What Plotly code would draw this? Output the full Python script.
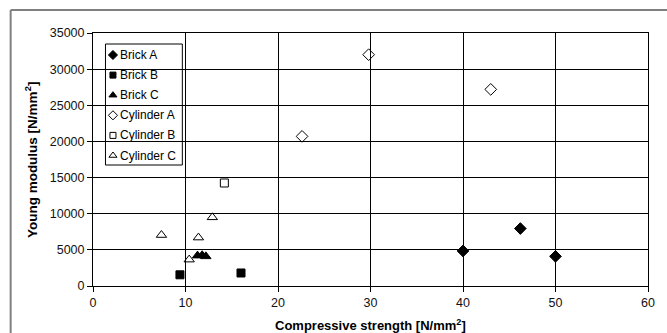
import plotly.graph_objects as go

brick_a_x = [40.0, 46.2, 50.0]
brick_a_y = [4850, 7950, 4100]
brick_b_x = [9.4, 16.0]
brick_b_y = [1550, 1800]
brick_c_x = [11.3, 11.8, 12.2]
brick_c_y = [4200, 4250, 4100]
cyl_a_x = [22.6, 29.8, 43.0]
cyl_a_y = [20700, 32000, 27200]
cyl_b_x = [14.2]
cyl_b_y = [14250]
cyl_c_x = [7.4, 10.4, 11.4, 12.9]
cyl_c_y = [7050, 3650, 6700, 9500]

x_ticks = [0, 10, 20, 30, 40, 50, 60]
y_ticks = [0, 5000, 10000, 15000, 20000, 25000, 30000, 35000]

series = [
    ("Brick A", brick_a_x, brick_a_y, "diamond", 9),
    ("Brick B", brick_b_x, brick_b_y, "square", 8),
    ("Brick C", brick_c_x, brick_c_y, "triangle-up", 9),
    ("Cylinder A", cyl_a_x, cyl_a_y, "diamond-open", 9),
    ("Cylinder B", cyl_b_x, cyl_b_y, "square-open", 8),
    ("Cylinder C", cyl_c_x, cyl_c_y, "triangle-up-open", 9),
]

FONT = "Liberation Sans, Arial, sans-serif"
W, H = 667, 333
L, R, T, B = 92.5, 18.5, 33, 47

# legend layout (pixels)
LEG_X0, LEG_X1, LEG_Y0, LEG_Y1 = 105, 182, 44, 165
LEG_ROW0, LEG_STEP, LEG_MX, LEG_TX = 55, 20.1, 112.5, 117.5

fig = go.Figure()
for name, xs, ys, sym, sz in series:
    fig.add_trace(go.Scatter(
        x=xs, y=ys, mode="markers", name=name, showlegend=False,
        marker=dict(symbol=sym, size=sz, color="black",
                    line=dict(color="black", width=1)),
    ))

# custom legend keys on a pixel-based overlay axis
annotations = []
for i, (name, xs, ys, sym, sz) in enumerate(series):
    yy = LEG_ROW0 + i * LEG_STEP
    fig.add_trace(go.Scatter(
        x=[LEG_MX], y=[yy], xaxis="x2", yaxis="y2", mode="markers",
        showlegend=False, hoverinfo="skip", cliponaxis=False,
        marker=dict(symbol=sym, size=sz - 2, color="black",
                    line=dict(color="black", width=1)),
    ))
    annotations.append(dict(
        text=name, xref="x2", yref="y2", x=LEG_TX, y=yy,
        xanchor="left", yanchor="middle", showarrow=False,
        font=dict(family=FONT, size=12, color="black")))

pw, ph = W - L - R, H - T - B

annotations += [
    dict(text="<b>Compressive strength [N/mm<sup>2</sup>]</b>",
         xref="paper", yref="paper", x=(370 - L) / pw, y=(H - B - 325) / ph,
         xanchor="center", yanchor="middle", showarrow=False,
         font=dict(family=FONT, size=13, color="black")),
    dict(text="<b>Young modulus [N/mm<sup>2</sup>]</b>",
         xref="paper", yref="paper", x=(30 - L) / pw, y=0.5,
         xanchor="center", yanchor="middle", showarrow=False, textangle=-90,
         font=dict(family=FONT, size=13.5, color="black")),
]

fig.update_layout(
    width=W, height=H,
    margin=dict(l=L, r=R, t=T, b=B, pad=0),
    paper_bgcolor="white", plot_bgcolor="white",
    font=dict(family=FONT, size=12, color="black"),
    showlegend=False,
    xaxis=dict(
        range=[0, 60], tickvals=x_ticks, ticktext=[str(v) for v in x_ticks],
        showgrid=True, gridcolor="black", gridwidth=1,
        showline=True, linecolor="black", linewidth=1, mirror=True,
        ticks="outside", ticklen=5, tickcolor="black",
        zeroline=False, tickfont=dict(size=12.5, color="#111"),
    ),
    yaxis=dict(
        range=[0, 35000], tickvals=y_ticks, ticktext=[str(v) for v in y_ticks],
        showgrid=True, gridcolor="black", gridwidth=1,
        showline=True, linecolor="black", linewidth=1, mirror=True,
        ticks="outside", ticklen=5, tickcolor="black",
        zeroline=False, tickfont=dict(size=12.5, color="#111"),
    ),
    xaxis2=dict(range=[L, W - R], overlaying="x", visible=False, fixedrange=True),
    yaxis2=dict(range=[H - B, T], overlaying="y", visible=False, fixedrange=True),
    annotations=annotations,
    shapes=[
        dict(type="rect", xref="x2", yref="y2", layer="below",
             x0=LEG_X0, x1=LEG_X1, y0=LEG_Y0, y1=LEG_Y1,
             fillcolor="white", line=dict(color="black", width=1)),
        dict(type="line", xref="paper", yref="paper",
             x0=(10 - L) / pw, x1=(10 - L) / pw, y0=(H - B - 10) / ph, y1=-0.3,
             line=dict(color="#808080", width=2)),
        dict(type="line", xref="paper", yref="paper",
             x0=(10 - L) / pw, x1=1.1, y0=(H - B - 10) / ph, y1=(H - B - 10) / ph,
             line=dict(color="#808080", width=2)),
    ],
)

fig.write_html("out.html")
